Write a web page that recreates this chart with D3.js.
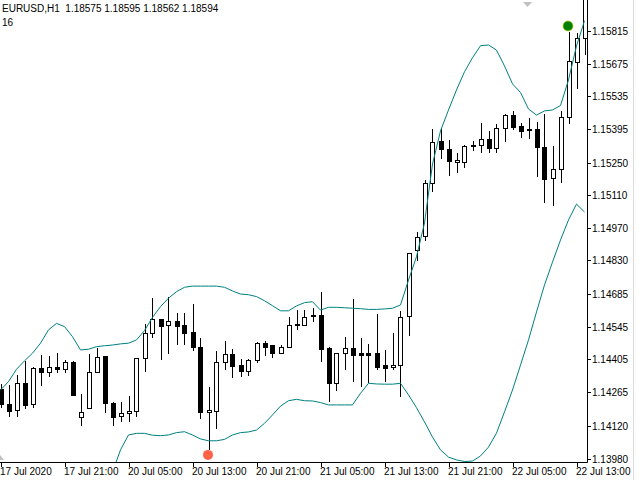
<!DOCTYPE html>
<html><head><meta charset="utf-8">
<script src="https://cdn.jsdelivr.net/npm/d3@7"></script>
<style>html,body{margin:0;padding:0;background:#fff;}svg{display:block;}</style>
</head><body>
<svg id="c" width="640" height="480"></svg>
<script>
// ---- data ----
const opens  = [1.14278,1.14214,1.14185,1.14303,1.14213,1.14367,1.14350,1.14372,1.14363,1.14396,
 1.14157,1.14196,1.14353,1.14420,1.14217,1.14159,1.14174,1.14184,1.14410,1.14517,
 1.14578,1.14556,1.14569,1.14552,1.14522,1.14457,1.14178,1.14181,1.14393,1.14429,
 1.14380,1.14353,1.14403,1.14477,1.14466,1.14432,1.14460,1.14553,1.14552,1.14594,
 1.14596,1.14454,1.14303,1.14432,1.14453,1.14432,1.14432,1.14432,1.14381,1.14372,
 1.14384,1.14589,1.14875,1.14932,1.15161,1.15342,1.15307,1.15251,1.15254,1.15324,
 1.15324,1.15350,1.15310,1.15397,1.15454,1.15407,1.15394,1.15393,1.15318,1.15183,
 1.15221,1.15445,1.15683,1.15784];
const highs  = [1.14300,1.14296,1.14338,1.14399,1.14372,1.14424,1.14420,1.14434,1.14403,1.14399,
 1.14257,1.14429,1.14456,1.14420,1.14221,1.14221,1.14248,1.14410,1.14556,1.14668,
 1.14578,1.14672,1.14606,1.14603,1.14642,1.14496,1.14286,1.14441,1.14484,1.14449,
 1.14406,1.14406,1.14481,1.14486,1.14466,1.14466,1.14589,1.14617,1.14617,1.14625,
 1.14693,1.14460,1.14432,1.14500,1.14665,1.14496,1.14472,1.14600,1.14446,1.14520,
 1.14613,1.14861,1.14951,1.15175,1.15394,1.15397,1.15347,1.15293,1.15326,1.15343,
 1.15420,1.15385,1.15416,1.15457,1.15472,1.15419,1.15440,1.15426,1.15457,1.15323,
 1.15472,1.15812,1.15808,1.15970];
const lows   = [1.14197,1.14158,1.14158,1.14193,1.14198,1.14291,1.14331,1.14348,1.14346,1.14250,
 1.14121,1.14193,1.14350,1.14174,1.14121,1.14135,1.14135,1.14157,1.14353,1.14499,
 1.14403,1.14429,1.14467,1.14466,1.14443,1.14148,1.14017,1.14108,1.14360,1.14327,
 1.14331,1.14335,1.14391,1.14420,1.14413,1.14427,1.14456,1.14532,1.14549,1.14567,
 1.14396,1.14224,1.14271,1.14360,1.14310,1.14286,1.14303,1.14360,1.14310,1.14360,
 1.14245,1.14506,1.14828,1.14912,1.15125,1.15266,1.15194,1.15204,1.15228,1.15301,
 1.15293,1.15293,1.15293,1.15340,1.15390,1.15357,1.15350,1.15190,1.15075,1.15065,
 1.15164,1.15416,1.15565,1.15712];
const closes = [1.14214,1.14185,1.14303,1.14210,1.14367,1.14348,1.14372,1.14363,1.14393,1.14253,
 1.14178,1.14350,1.14417,1.14217,1.14159,1.14174,1.14184,1.14410,1.14517,1.14578,
 1.14550,1.14572,1.14546,1.14517,1.14456,1.14177,1.14187,1.14393,1.14429,1.14378,
 1.14353,1.14402,1.14477,1.14460,1.14430,1.14457,1.14553,1.14557,1.14586,1.14590,
 1.14449,1.14303,1.14432,1.14453,1.14421,1.14424,1.14424,1.14374,1.14370,1.14381,
 1.14589,1.14861,1.14932,1.15161,1.15337,1.15307,1.15254,1.15261,1.15321,1.15318,
 1.15350,1.15310,1.15397,1.15454,1.15404,1.15387,1.15391,1.15314,1.15180,1.15221,
 1.15445,1.15686,1.15784,1.15955];
const upperBand = [1.14274,1.14310,1.14363,1.14399,1.14432,1.14475,1.14532,1.14560,1.14546,1.14503,
 1.14446,1.14449,1.14460,1.14464,1.14467,1.14472,1.14475,1.14489,1.14529,1.14586,
 1.14632,1.14668,1.14696,1.14715,1.14720,1.14720,1.14720,1.14720,1.14715,1.14699,
 1.14686,1.14683,1.14675,1.14657,1.14636,1.14614,1.14614,1.14635,1.14649,1.14653,
 1.14617,1.14629,1.14629,1.14627,1.14625,1.14623,1.14620,1.14620,1.14622,1.14625,
 1.14639,1.14746,1.14846,1.14991,1.15244,1.15386,1.15476,1.15562,1.15640,1.15700,
 1.15752,1.15755,1.15733,1.15665,1.15588,1.15551,1.15480,1.15454,1.15472,1.15476,
 1.15495,1.15605,1.15751,1.15859];
const lowerBand = [null,null,null,null,null,null,null,null,null,null,
 null,null,null,null,1.13922,1.14017,1.14081,1.14088,1.14088,1.14080,
 1.14078,1.14081,1.14091,1.14095,1.14081,1.14064,1.14056,1.14056,1.14062,1.14081,
 1.14091,1.14094,1.14102,1.14131,1.14167,1.14205,1.14228,1.14234,1.14228,1.14227,
 1.14220,1.14210,1.14210,1.14210,1.14210,1.14260,1.14303,1.14300,1.14299,1.14299,
 1.14303,1.14253,1.14198,1.14137,1.14072,1.14017,1.13986,1.13974,1.13967,1.13969,
 1.13991,1.14029,1.14089,1.14180,1.14274,1.14381,1.14489,1.14609,1.14725,1.14823,
 1.14918,1.15004,1.15072,1.15038];
const priceTicks = ["1.15815","1.15675","1.15535","1.15395","1.15250","1.15110","1.14970",
 "1.14830","1.14685","1.14545","1.14405","1.14265","1.14120","1.13980"];
const timeTickIndex = [0,8,16,24,32,40,48,56,64,72];
const timeTickLabels = ["17 Jul 2020","17 Jul 21:00","20 Jul 05:00","20 Jul 13:00","20 Jul 21:00",
 "21 Jul 05:00","21 Jul 13:00","21 Jul 21:00","22 Jul 05:00","22 Jul 13:00"];
const headerLine1 = "EURUSD,H1  1.18575 1.18595 1.18562 1.18594";
const headerLine2 = "16";
const highMarkerIndex = 71, lowMarkerIndex = 26;

// ---- layout ----
const W = 640, H = 480, plotR = 587, plotB = 462;
const svg = d3.select("#c");
const font = "'Liberation Sans', Arial, sans-serif";
const n = opens.length;
const x = d3.scaleLinear().domain([0, n - 1]).range([0.5, 584.5]);
const y = d3.scaleLinear().domain([1.13980, 1.15815]).range([458.5, 31]);

svg.append("defs").append("clipPath").attr("id","clip")
  .append("rect").attr("x",0).attr("y",0).attr("width",plotR).attr("height",plotB);

const g = svg.append("g").attr("clip-path","url(#clip)");
const idx = d3.range(n);

// wicks
g.selectAll("line.wick").data(idx).join("line")
  .attr("x1", i => Math.round(x(i)) + 0.5).attr("x2", i => Math.round(x(i)) + 0.5)
  .attr("y1", i => y(highs[i])).attr("y2", i => y(lows[i]))
  .attr("stroke","#000").attr("stroke-width",1).attr("shape-rendering","crispEdges");

// bodies
g.selectAll("rect.body").data(idx).join("rect")
  .attr("x", i => Math.round(x(i)) - 1.5)
  .attr("width", 4)
  .attr("y", i => Math.round(Math.min(y(opens[i]), y(closes[i]))) + 0.5)
  .attr("height", i => Math.max(1, Math.round(Math.abs(y(opens[i]) - y(closes[i])))))
  .attr("fill", i => closes[i] >= opens[i] ? "#fff" : "#000")
  .attr("stroke","#000").attr("stroke-width",1).attr("shape-rendering","crispEdges");

// bands
const bandLine = d3.line().defined(d => d != null).x((d,i) => x(i)).y(d => y(d));
g.append("path").attr("d", bandLine(upperBand)).attr("fill","none").attr("stroke","#008080").attr("stroke-width",1);
g.append("path").attr("d", bandLine(lowerBand)).attr("fill","none").attr("stroke","#008080").attr("stroke-width",1);

// markers
g.append("circle").attr("cx", x(highMarkerIndex) - 0.5).attr("cy", y(highs[highMarkerIndex]) - 5.7)
  .attr("r", 5).attr("fill","#008000").attr("stroke","#c8c800").attr("stroke-width",0.6);
g.append("circle").attr("cx", x(lowMarkerIndex) - 0.5).attr("cy", y(lows[lowMarkerIndex]) + 5)
  .attr("r", 5).attr("fill","#ff6347");

// axes lines
svg.append("line").attr("x1",plotR+0.5).attr("x2",plotR+0.5).attr("y1",0).attr("y2",plotB+0.5).attr("stroke","#000");
svg.append("line").attr("x1",0).attr("x2",plotR+0.5).attr("y1",plotB+0.5).attr("y2",plotB+0.5).attr("stroke","#000");
svg.append("line").attr("x1",633.5).attr("x2",633.5).attr("y1",0).attr("y2",H).attr("stroke","#dcdcdc");

// price axis
const yAxisG = svg.append("g");
priceTicks.forEach(t => {
  const yy = Math.round(y(+t)) + 0.5;
  yAxisG.append("line").attr("x1",plotR).attr("x2",plotR+4).attr("y1",yy).attr("y2",yy).attr("stroke","#000");
  yAxisG.append("text").attr("x",plotR+5).attr("y",yy+3.5).text(t)
    .attr("font-family",font).attr("font-size","10px").attr("fill","#000");
});

// time axis
timeTickIndex.forEach((ti,k) => {
  const xx = Math.round(x(ti)) + 0.5;
  svg.append("line").attr("x1",xx).attr("x2",xx).attr("y1",plotB).attr("y2",plotB+5).attr("stroke","#000");
  svg.append("text").attr("x", Math.max(0, xx - 1.5)).attr("y", plotB + 13).text(timeTickLabels[k])
    .attr("font-family",font).attr("font-size","10px").attr("fill","#000");
});

// header
svg.append("text").attr("x",2).attr("y",12).text(headerLine1).attr("xml:space","preserve")
  .style("white-space","pre").attr("font-family",font).attr("font-size","10px").attr("fill","#000");
svg.append("text").attr("x",2).attr("y",26).text(headerLine2)
  .attr("font-family",font).attr("font-size","10px").attr("fill","#000");

// grey shift markers
svg.append("path").attr("d", d3.line()([[523,2],[532,2],[527.5,7]]) + "Z").attr("fill","#c0c0c0");
svg.append("path").attr("d", d3.line()([[0,455],[4,460],[0,460]]) + "Z").attr("fill","#c0c0c0");
</script>
</body></html>
